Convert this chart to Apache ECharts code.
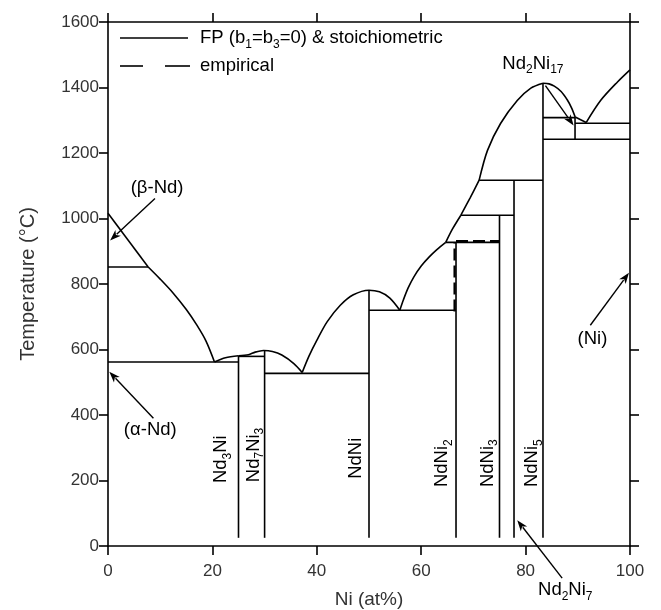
<!DOCTYPE html>
<html><head><meta charset="utf-8">
<script src="https://cdn.jsdelivr.net/npm/echarts@6/dist/echarts.min.js"></script>
<style>html,body{margin:0;padding:0;background:#fff}#c{width:661px;height:610px}</style>
</head><body><div id="c"></div>
<script>
// ---- axis ticks ----
const xTicks = [0, 20, 40, 60, 80, 100];
const yTicks = [0, 200, 400, 600, 800, 1000, 1200, 1400, 1600];

// ---- liquidus curve segments [Ni at%, T °C] ----
const liqBetaNd   = [[0,1016],[7.7,852]];
const liqNdEut    = [[7.7,852],[10,815],[12.5,772],[15,722],[17,675],[18.8,625],[20.4,562]];
const liqNd3Ni    = [[20.4,562],[22.5,575],[25,581]];
const liqNd7Ni3   = [[25,581],[26.9,584],[28.2,592],[29.8,597],[31.5,594],[33.3,583],[35.6,557],[37.2,530]];
const liqNdNi     = [[37.2,530],[38.5,580],[40,628],[42,685],[44.5,735],[47,767],[50,781],[52,776],[54,757],[55.9,720]];
const liqNdNi2    = [[55.9,720],[56.6,752],[57.5,788],[58.6,822],[60,855],[61.5,882],[63,905],[64.7,927]];
const liqNdNi3    = [[64.7,927],[66,968],[67.6,1010]];
const liqNd2Ni7   = [[67.6,1010],[69.4,1064],[71.1,1117]];
const liqNdNi5L   = [[71.1,1117],[72.7,1208],[75.2,1290],[78.4,1360],[81,1398],[83.33,1413]];
const liqNdNi5R   = [[83.33,1413],[84.5,1411],[85.5,1404],[86.8,1388],[88,1362],[88.8,1338],[89.5,1310]];
const liqNd2Ni17  = [[89.5,1310],[91.6,1293]];
const liqNi       = [[91.6,1293],[94.4,1361],[97.6,1417],[100,1454]];

// ---- invariant horizontals [x1, x2, T] ----
const horizontals = [
  [0, 7.7, 852], [0, 25, 562], [25, 30, 579], [30, 50, 527], [50, 66.67, 720],
  [64.7, 75, 927], [67.6, 77.78, 1010], [71.1, 83.33, 1117],
  [83.33, 89.47, 1308], [89.47, 100, 1291], [83.33, 100, 1242]
];
// ---- compound verticals [x, Tlow, Thigh] ----
const verticals = [
  [25, 25, 581], [30, 25, 597], [50, 25, 781], [66.67, 25, 927],
  [75, 25, 1010], [77.78, 25, 1117], [83.33, 25, 1413], [89.47, 1242, 1308]
];
// ---- empirical (dashed) ----
const empiricalH = [[66.67, 75, 931]];
const empiricalV = [[66.4, 716, 925]];

// ---- labels ----
const phaseLabels = [
  {t:'(β-Nd)', x:9.4, y:1092}, {t:'(α-Nd)', x:8.1, y:354}, {t:'(Ni)', x:92.8, y:631},
  {t:'{n|Nd}{s|2}{n|Ni}{s|17}', x:81.4, y:1473}, {t:'{n|Nd}{s|2}{n|Ni}{s|7}', x:87.6, y:-134}
];
const compoundLabels = [
  {t:'{n|Nd}{s|3}{n|Ni}', x:21.6, y:265}, {t:'{n|Nd}{s|7}{n|Ni}{s|3}', x:27.9, y:278},
  {t:'{n|NdNi}', x:47.4, y:268}, {t:'{n|NdNi}{s|2}', x:64.0, y:253},
  {t:'{n|NdNi}{s|3}', x:72.7, y:253}, {t:'{n|NdNi}{s|5}', x:81.3, y:253}
];
// arrows [from, to]
const arrows = [
  [[9.0,1061],[0.4,933]], [[8.7,390],[0.25,532]], [[92.4,674],[99.8,834]],
  [[83.8,1406],[89.2,1284]], [[87,-98],[78.4,79]]
];

const FONT = 'Liberation Sans, Arial, Helvetica, sans-serif';
const TXT = '#333';
const LW = 1.6;

const series = [];
function addLine(data, smooth, dashed) {
  series.push({
    type: 'line', data: data, symbol: 'none', smooth: smooth ? 0.3 : false,
    silent: true, animation: false, clip: false,
    lineStyle: dashed ? {color:'#000', width:2.3, type:[12,5]} : {color:'#000', width:LW}
  });
}
[liqBetaNd, liqNdEut, liqNd3Ni, liqNd7Ni3, liqNdNi, liqNdNi2, liqNdNi3, liqNd2Ni7,
 liqNdNi5L, liqNdNi5R, liqNd2Ni17, liqNi].forEach(d => addLine(d, d.length > 2, false));
horizontals.forEach(h => addLine([[h[0], h[2]], [h[1], h[2]]], false, false));
verticals.forEach(v => addLine([[v[0], v[1]], [v[0], v[2]]], false, false));
empiricalH.forEach(h => addLine([[h[0], h[2]], [h[1], h[2]]], false, true));
empiricalV.forEach(v => addLine([[v[0], v[1]], [v[0], v[2]]], false, true));

const axLine = {show:true, onZero:false, lineStyle:{color:'#000', width:LW}};
const axTick = {show:true, inside:false, length:9, lineStyle:{color:'#000', width:LW}};
const baseX = {type:'value', min:xTicks[0], max:xTicks[xTicks.length-1], interval:20,
  axisLine:axLine, axisTick:axTick, splitLine:{show:false}};
const baseY = {type:'value', min:yTicks[0], max:yTicks[yTicks.length-1], interval:200,
  axisLine:axLine, axisTick:axTick, splitLine:{show:false}};
const plain = v => String(v);

const chart = echarts.init(document.getElementById('c'));
chart.setOption({
  animation: false,
  grid: {left:108, right:31, top:22, bottom:64, containLabel:false, outerBoundsMode:'none'},
  xAxis: [
    Object.assign({}, baseX, {position:'bottom', name:'Ni (at%)', nameLocation:'middle', nameGap:44,
      nameTextStyle:{fontSize:19, color:TXT, fontFamily:FONT},
      axisLabel:{fontSize:17, color:TXT, fontFamily:FONT, margin:17, formatter:plain}}),
    Object.assign({}, baseX, {position:'top', axisLabel:{show:false}})
  ],
  yAxis: [
    Object.assign({}, baseY, {position:'left', name:'Temperature (°C)', nameLocation:'middle', nameGap:70,
      nameTextStyle:{fontSize:20, color:TXT, fontFamily:FONT},
      axisLabel:{fontSize:17, color:TXT, fontFamily:FONT, margin:9, formatter:plain}}),
    Object.assign({}, baseY, {position:'right', axisLabel:{show:false}})
  ],
  series: series
});

const rich = {
  n: {fontSize:18.5, lineHeight:25, color:TXT, fontFamily:FONT},
  s: {fontSize:12, lineHeight:12, verticalAlign:'bottom', color:TXT, fontFamily:FONT}
};
const P = (pt) => chart.convertToPixel({xAxisIndex:0, yAxisIndex:0}, pt);
const g = [];
phaseLabels.forEach(l => {
  const p = P([l.x, l.y]);
  const txt = l.t.indexOf('{') >= 0 ? l.t : '{n|' + l.t + '}';
  g.push({type:'text', x:p[0], y:p[1], silent:true,
    style:{text:txt, rich:rich, align:'center', verticalAlign:'middle', fontFamily:FONT}});
});
compoundLabels.forEach(l => {
  const p = P([l.x, l.y]);
  g.push({type:'text', x:p[0], y:p[1], rotation:Math.PI/2, silent:true,
    style:{text:l.t, rich:rich, align:'center', verticalAlign:'middle', fontFamily:FONT}});
});
arrows.forEach(a => {
  const p0 = P(a[0]), p1 = P(a[1]);
  const dx = p1[0]-p0[0], dy = p1[1]-p0[1], L = Math.hypot(dx, dy);
  const ux = dx/L, uy = dy/L, hl = 11, hw = 4;
  const bx = p1[0]-ux*hl, by = p1[1]-uy*hl;
  g.push({type:'line', silent:true, shape:{x1:p0[0], y1:p0[1], x2:bx+ux*2, y2:by+uy*2},
    style:{stroke:'#000', lineWidth:1.4}});
  g.push({type:'polygon', silent:true, shape:{points:[[p1[0],p1[1]],[bx-uy*hw,by+ux*hw],[bx+ux*3,by+uy*3],[bx+uy*hw,by-ux*hw]]},
    style:{fill:'#000'}});
});
// legend
g.push({type:'line', silent:true, shape:{x1:120, y1:38, x2:188, y2:38}, style:{stroke:'#000', lineWidth:LW}});
g.push({type:'line', silent:true, shape:{x1:120, y1:66, x2:143, y2:66}, style:{stroke:'#000', lineWidth:LW}});
g.push({type:'line', silent:true, shape:{x1:165, y1:66, x2:190, y2:66}, style:{stroke:'#000', lineWidth:LW}});
g.push({type:'text', x:200, y:38, silent:true, style:{text:'{n|FP (b}{s|1}{n|=b}{s|3}{n|=0) & stoichiometric}', rich:rich, align:'left', verticalAlign:'middle'}});
g.push({type:'text', x:200, y:66, silent:true, style:{text:'{n|empirical}', rich:rich, align:'left', verticalAlign:'middle'}});
chart.setOption({graphic: g});
</script></body></html>
